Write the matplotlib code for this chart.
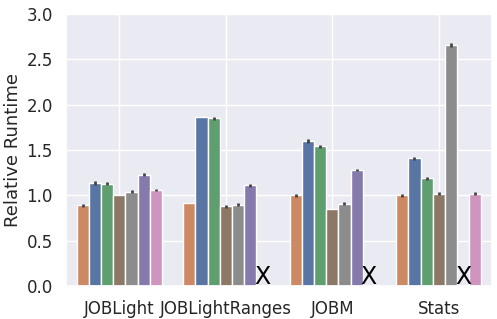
import numpy as np
import matplotlib
matplotlib.use("Agg")
import matplotlib.pyplot as plt
import seaborn as sns

sns.set_theme(style="darkgrid")

# benchmarks and per-method relative runtimes (nan = missing -> "X")
benchmarks = ["JOBLight", "JOBLightRanges", "JOBM", "Stats"]
m_orange = [0.89, 0.92, 1.00, 1.00]
m_blue = [1.14, 1.86, 1.60, 1.41]
m_green = [1.13, 1.85, 1.54, 1.19]
m_brown = [1.00, 0.88, 0.85, 1.02]
m_gray = [1.04, 0.90, 0.91, 2.66]
m_purple = [1.23, 1.11, 1.28, np.nan]
m_pink = [1.06, np.nan, np.nan, 1.02]
series = [m_orange, m_blue, m_green, m_brown, m_gray, m_purple, m_pink]

# small error bars (0 = none visible)
e_orange = [0.015, 0.0, 0.015, 0.015]
e_blue = [0.02, 0.0, 0.02, 0.015]
e_green = [0.015, 0.015, 0.015, 0.015]
e_brown = [0.0, 0.015, 0.0, 0.015]
e_gray = [0.015, 0.015, 0.02, 0.02]
e_purple = [0.015, 0.015, 0.015, 0.0]
e_pink = [0.015, 0.0, 0.0, 0.015]
errors = [e_orange, e_blue, e_green, e_brown, e_gray, e_purple, e_pink]

deep = sns.color_palette("deep")
base = [deep[1], deep[0], deep[2], deep[5], deep[7], deep[4], deep[6]]
colors = [sns.desaturate(c, 0.75) for c in base]

fig, ax = plt.subplots(figsize=(4.97, 3.19), dpi=100)
x = np.arange(len(benchmarks))
n = len(series)
w = 0.8 / n
for i, (vals, errs, c) in enumerate(zip(series, errors, colors)):
    pos = x - 0.4 + w * (i + 0.5)
    vals = np.array(vals)
    ok = ~np.isnan(vals)
    ax.bar(pos[ok], vals[ok], width=w, color=c, edgecolor="white", linewidth=1)
    ax.errorbar(pos[ok], vals[ok], yerr=np.array(errs)[ok], fmt="none",
                ecolor="#444444", elinewidth=2, capsize=0)
    for p in pos[~ok]:
        ax.text(p, -0.035, "X", ha="center", va="bottom", fontsize=17, color="black")

ax.set_xticks(x)
ax.set_xticklabels(benchmarks, fontsize=12)
ax.set_xlim(-0.5, 3.5)
ax.set_ylim(0, 3.0)
ax.set_yticks(np.arange(0, 3.01, 0.5))
ax.tick_params(axis="y", labelsize=12)
ax.tick_params(axis="x", pad=4)
ax.set_ylabel("Relative Runtime", fontsize=13, labelpad=3)
plt.subplots_adjust(left=0.133, right=0.99, top=0.956, bottom=0.103)
plt.savefig("out.png", dpi=100)
